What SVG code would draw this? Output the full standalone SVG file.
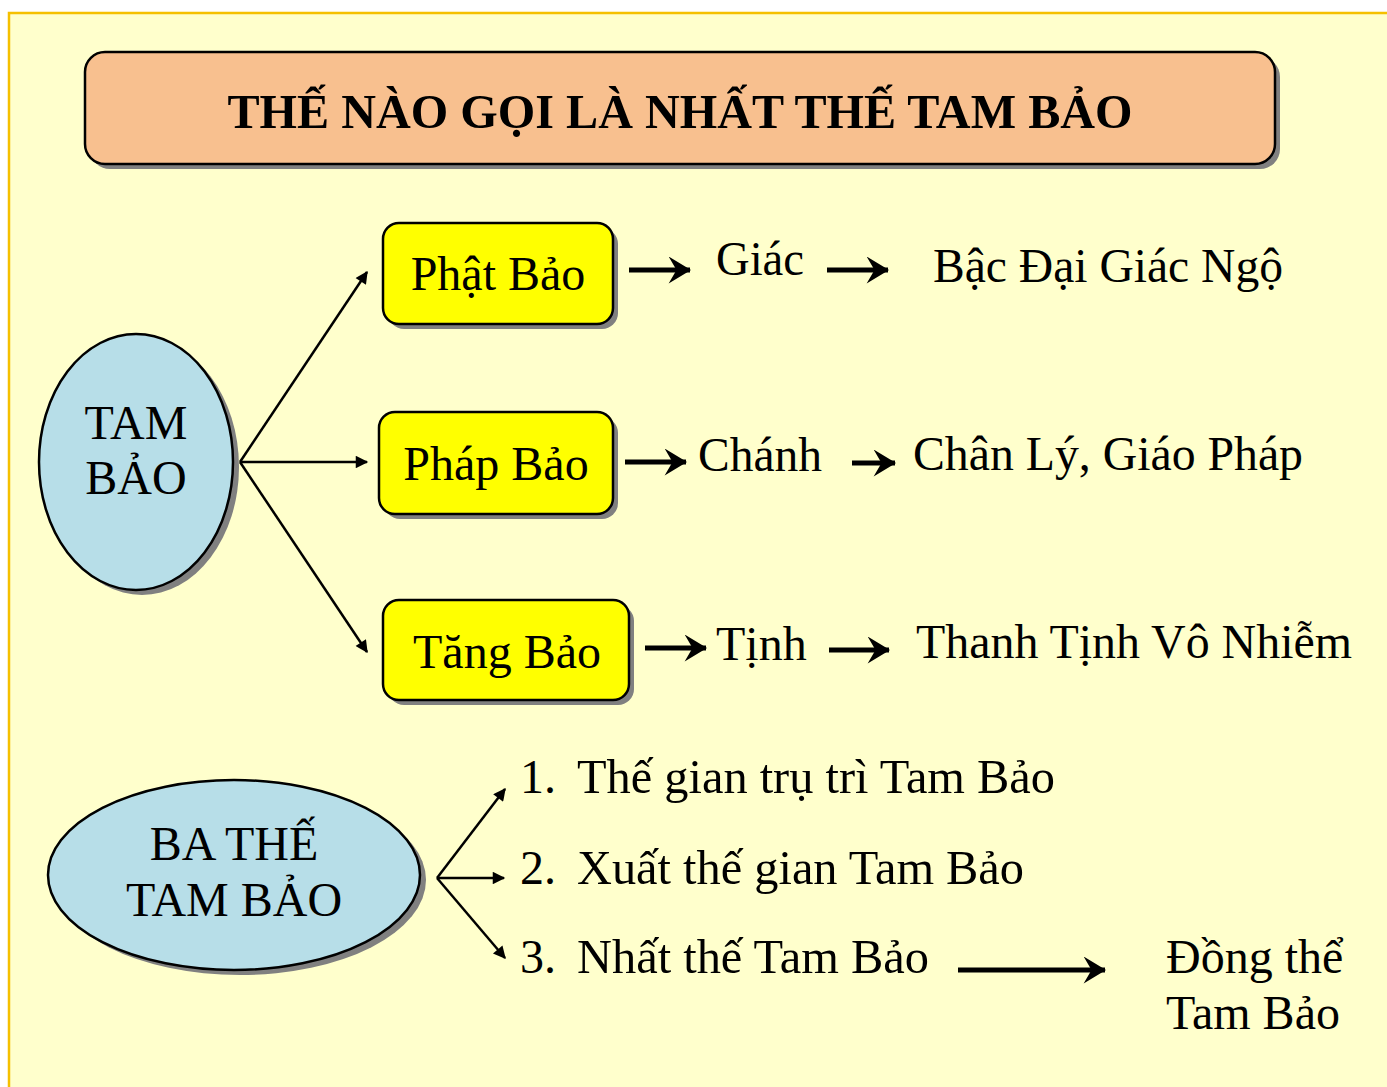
<svg xmlns="http://www.w3.org/2000/svg" width="1387" height="1087" viewBox="0 0 1387 1087">
<style>
text{font-family:"Liberation Serif","Times New Roman",serif;fill:#000}
.t{font-size:48px}
.m{font-size:48px}
.c{text-anchor:middle}
.sh{fill:#808080}
.box{fill:#FFFF00;stroke:#000;stroke-width:2.5}
.ell{fill:#B7DEE8;stroke:#000;stroke-width:2.5}
.thin{stroke:#000;stroke-width:2.5;fill:none}
.thick{stroke:#000;stroke-width:5;fill:none}
</style>
<defs>
<marker id="tri" viewBox="0 0 10 10" refX="9" refY="5" markerWidth="6" markerHeight="5" markerUnits="strokeWidth" orient="auto">
<path d="M0,0 L10,5 L0,10 z" fill="#000"/>
</marker>
<marker id="barb" viewBox="0 0 20 24" refX="19" refY="12" markerWidth="4.6" markerHeight="5.4" markerUnits="strokeWidth" orient="auto">
<path d="M0,0 L20,12 L0,24 L7,12 z" fill="#000"/>
</marker>
</defs>
<rect x="0" y="0" width="1387" height="1087" fill="#FFFFFF"/>
<rect x="9" y="13" width="1400" height="1100" fill="#FFFFCC" stroke="#F5C000" stroke-width="2.5"/>

<g id="title">
<rect class="sh" x="90" y="57" width="1190" height="112" rx="20"/>
<rect x="85" y="52" width="1190" height="112" rx="20" fill="#F8C08F" stroke="#000" stroke-width="2.5"/>
<text x="680" y="128" class="c" style="font-size:48px;font-weight:bold" textLength="905" lengthAdjust="spacingAndGlyphs">THẾ NÀO GỌI LÀ NHẤT THẾ TAM BẢO</text>
</g>

<g id="tam-bao">
<ellipse class="sh" cx="142" cy="467" rx="97" ry="128"/>
<ellipse class="ell" cx="136" cy="462" rx="97" ry="128"/>
<text x="136" y="439" class="t c">TAM</text>
<text x="136" y="494" class="t c">BẢO</text>
</g>

<g id="phat-bao">
<rect class="sh" x="388" y="228" width="230" height="101" rx="16"/>
<rect class="box" x="383" y="223" width="230" height="101" rx="16"/>
<text x="498" y="290" class="t c">Phật Bảo</text>
</g>
<g id="phap-bao">
<rect class="sh" x="384" y="417" width="234" height="102" rx="16"/>
<rect class="box" x="379" y="412" width="234" height="102" rx="16"/>
<text x="496" y="480" class="t c">Pháp Bảo</text>
</g>
<g id="tang-bao">
<rect class="sh" x="388" y="605" width="246" height="100" rx="16"/>
<rect class="box" x="383" y="600" width="246" height="100" rx="16"/>
<text x="507" y="668" class="t c">Tăng Bảo</text>
</g>

<g id="giac"><text x="716" y="275" class="m" textLength="88" lengthAdjust="spacingAndGlyphs">Giác</text></g>
<g id="bac-dai-giac-ngo"><text x="933" y="282" class="m" textLength="350" lengthAdjust="spacingAndGlyphs">Bậc Đại Giác Ngộ</text></g>
<g id="chanh"><text x="698" y="471" class="m" textLength="124" lengthAdjust="spacingAndGlyphs">Chánh</text></g>
<g id="chan-ly"><text x="913" y="470" class="m" textLength="390" lengthAdjust="spacingAndGlyphs">Chân Lý, Giáo Pháp</text></g>
<g id="tinh"><text x="716" y="660" class="m">Tịnh</text></g>
<g id="thanh-tinh"><text x="916" y="658" class="m" textLength="436" lengthAdjust="spacingAndGlyphs">Thanh Tịnh Vô Nhiễm</text></g>

<g id="ba-the">
<ellipse class="sh" cx="240" cy="880" rx="186" ry="95"/>
<ellipse class="ell" cx="234" cy="875" rx="186" ry="95"/>
<text x="234" y="860" class="t c">BA THẾ</text>
<text x="234" y="916" class="t c">TAM BẢO</text>
</g>

<g id="item1"><text x="520" y="793" class="t">1.</text><text x="577" y="793" class="t" textLength="478" lengthAdjust="spacingAndGlyphs">Thế gian trụ trì Tam Bảo</text></g>
<g id="item2"><text x="520" y="884" class="t">2.</text><text x="577" y="884" class="t" textLength="447" lengthAdjust="spacingAndGlyphs">Xuất thế gian Tam Bảo</text></g>
<g id="item3"><text x="520" y="973" class="t">3.</text><text x="577" y="973" class="t" textLength="352" lengthAdjust="spacingAndGlyphs">Nhất thế Tam Bảo</text></g>
<g id="dong-the">
<text x="1166" y="973" class="t">Đồng thể</text>
<text x="1166" y="1029" class="t">Tam Bảo</text>
</g>

<g id="connectors">
<line class="thin" x1="240" y1="462" x2="367" y2="272" marker-end="url(#tri)"/>
<line class="thin" x1="240" y1="462" x2="367" y2="462" marker-end="url(#tri)"/>
<line class="thin" x1="240" y1="462" x2="367" y2="652" marker-end="url(#tri)"/>
<line class="thick" x1="629" y1="270" x2="690" y2="270" marker-end="url(#barb)"/>
<line class="thick" x1="827" y1="270" x2="888" y2="270" marker-end="url(#barb)"/>
<line class="thick" x1="625" y1="462" x2="686" y2="462" marker-end="url(#barb)"/>
<line class="thick" x1="852" y1="463" x2="895" y2="463" marker-end="url(#barb)"/>
<line class="thick" x1="645" y1="648" x2="706" y2="648" marker-end="url(#barb)"/>
<line class="thick" x1="829" y1="650" x2="889" y2="650" marker-end="url(#barb)"/>
<line class="thin" x1="437" y1="878" x2="505" y2="789" marker-end="url(#tri)"/>
<line class="thin" x1="437" y1="878" x2="504" y2="878" marker-end="url(#tri)"/>
<line class="thin" x1="437" y1="878" x2="505" y2="958" marker-end="url(#tri)"/>
<line class="thick" x1="958" y1="970" x2="1105" y2="970" marker-end="url(#barb)"/>
</g>
</svg>
